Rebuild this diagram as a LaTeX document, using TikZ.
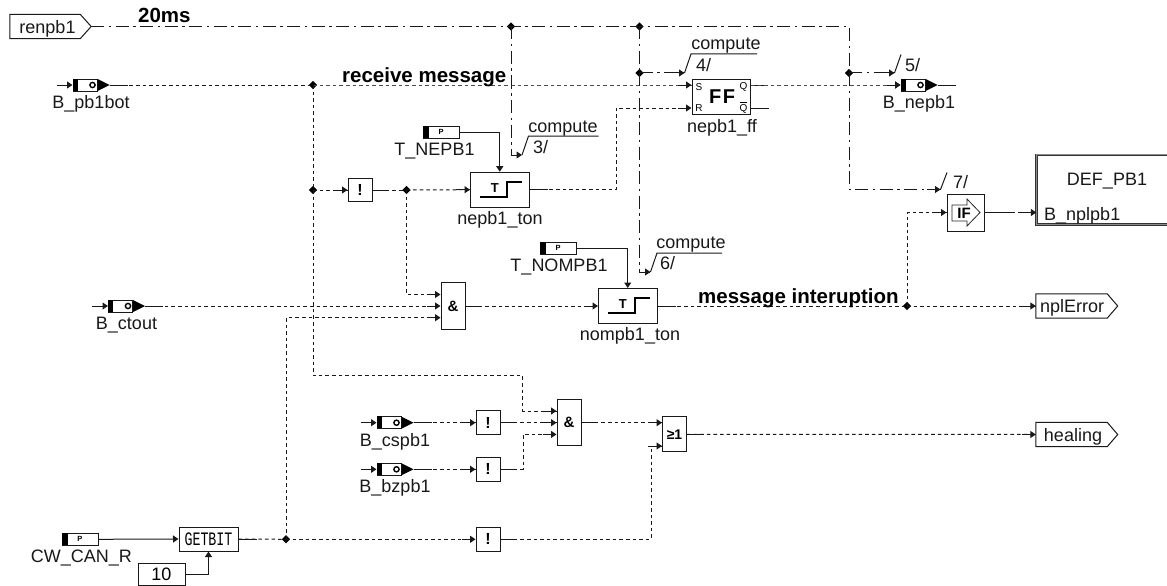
\documentclass[tikz,border=0pt]{standalone}
\usepackage{fontspec}
\setmainfont{Liberation Sans}
\newfontfamily\narrowmono[FakeStretch=0.7]{Liberation Mono}
\usetikzlibrary{calc,arrows.meta,shapes.geometric}
\newcommand\fs[1]{\fontsize{#1}{#1}\selectfont}
\tikzset{
  wire/.style={line width=1pt,black!90},
  tipped/.style={-{Triangle[length=5.5pt,width=7pt]}},
  datawire/.style={wire,dash pattern=on 3.6pt off 3pt},
  lightwire/.style={line width=0.9pt,black!70,dash pattern=on 3.6pt off 3pt},
  ctrlwire/.style={wire,dash pattern=on 13pt off 4.5pt on 2.5pt off 4.5pt},
  blockbox/.style={draw=black!90,line width=1pt,inner sep=0pt,fill=white},
  lbl/.style={inner sep=0pt,anchor=base,font=\fs{18},black!90},
  boldlbl/.style={inner sep=0pt,anchor=base west,font=\fs{20.5}\bfseries,black},
  junction/.style={diamond,fill=black,inner sep=0pt,minimum width=8.5pt,minimum height=8.5pt},
}
% name, left x, centre y, label
\newcommand\msgblock[4]{%
  \node[blockbox,minimum width=24pt,minimum height=12pt] (#1) at (#2+12,#3) {};
  \fill (#1.north west) rectangle ++(5,12);
  \fill ($(#1.east)+(0,-6)$) -- ++(12,6) -- ++(-12,6) -- cycle;
  \draw[line width=1.4pt] ($(#1.east)+(-5,0)$) circle[radius=2.6pt];
  \coordinate (#1-tip) at ($(#1.east)+(12,0)$);
  \coordinate (#1-in) at ($(#1.west)+(-16,0)$);
  \node[lbl] (#1-lbl) at (#2+18,#3+23.5) {#4};
  \draw[wire,tipped] (#1-in) -- (#1.west);
  \draw[wire] (#1-tip) -- ++(18,0);
}
% name, left x, centre y, label, label x
\newcommand\parblock[5]{%
  \node[blockbox,minimum width=36pt,minimum height=12pt] (#1) at (#2+18,#3) {};
  \fill (#1.north west) rectangle ++(6,12);
  \node[inner sep=0pt,font=\fs{7.5}\bfseries] (#1-p) at (#2+18,#3) {P};
  \node[lbl] (#1-lbl) at (#5,#3+23.5) {#4};
}
% name, centre x, centre y
\newcommand\notblock[3]{%
  \node[blockbox,minimum width=24pt,minimum height=23.5pt,font=\fs{16}\bfseries] (#1) at (#2,#3) {!};
  \draw[wire] (#1.east) -- ++(14,0);
}
% name, centre x, centre y
\newcommand\tonblock[3]{%
  \node[blockbox,minimum width=58.5pt,minimum height=35pt] (#1) at (#2,#3) {};
  \draw[line width=1.6pt] ($(#1.center)+(-20,7)$) -| ($(#1.center)+(7,-8)$) -- ++(15,0);
  \node[inner sep=0pt,font=\fs{13}\bfseries] (#1-t) at ($(#1.center)+(-5,-2)$) {T};
  \draw[wire] (#1.east) -- ++(18,0);
}
% name, left x, centre y, text, text centre x, baseline y
\newcommand\tagbox[6]{%
  \node[minimum width=71pt,minimum height=24pt,inner sep=0pt] (#1) at (#2+35.5,#3) {};
  \draw[line width=1pt,black!90] (#1.north west) -- (#1.north east) -- ($(#1.east)+(10.5,0)$) -- (#1.south east) -- (#1.south west) -- cycle;
  \node[lbl] (#1-txt) at (#5,#6) {#4};
}
\newcommand\stubin[1]{\draw[wire,tipped] ($(#1)+(-14,0)$) -- (#1);}
\begin{document}
\begin{tikzpicture}[x=1pt,y=-1pt]
\useasboundingbox[fill=white] (0,0) rectangle (1167,586);

% ---- blocks
\node[inner sep=0pt,minimum width=70pt,minimum height=24pt] (ren) at (45,26.5) {};
\draw[line width=1pt,black!90] (ren.north west) -- (ren.north east) -- ($(ren.east)+(11,0)$) -- (ren.south east) -- (ren.south west) -- cycle;
\coordinate (ren-tip) at ($(ren.east)+(11,0)$);
\node[lbl] (ren-txt) at (47.5,34) {renpb1};

\msgblock{pb1bot}{73}{85}{B\_pb1bot}
\msgblock{nepb1}{901}{85}{B\_nepb1}
\msgblock{ctout}{108.5}{306}{B\_ctout}
\msgblock{cspb1}{377}{422.7}{B\_cspb1}
\msgblock{bzpb1}{377}{469.3}{B\_bzpb1}

\parblock{tnepb}{423}{132}{T\_NEPB1}{434.5}
\parblock{tnomp}{540}{248}{T\_NOMPB1}{559}
\parblock{cwcan}{62}{539.3}{CW\_CAN\_R}{81.5}

\notblock{not1}{360}{190}
\notblock{not2}{488}{422.7}
\notblock{not3}{488}{469.3}
\notblock{not4}{488}{539.3}

\tonblock{ton1}{499.75}{189.7}
\tonblock{ton2}{627.75}{306}
\node[lbl] (ton1-lbl) at (500,224) {nepb1\_ton};
\node[lbl] (ton2-lbl) at (630,340.7) {nompb1\_ton};

\node[blockbox,minimum width=58.5pt,minimum height=35pt] (ff) at (721.25,96.5) {};
\node[inner sep=0pt,font=\fs{20}\bfseries] (ff-t) at (722,97) {F\kern1.5pt F};
\node[inner sep=0pt,font=\fs{10}] (ff-s) at (699,87) {S};
\node[inner sep=0pt,font=\fs{10}] (ff-r) at (699,108) {R};
\node[inner sep=0pt,font=\fs{10}] (ff-q) at (743.5,87) {Q};
\node[inner sep=0pt,font=\fs{10}] (ff-qn) at (743.5,107.5) {$\overline{\mbox{Q}}$};
\node[lbl] (ff-lbl) at (722,132) {nepb1\_ff};
\coordinate (ffS) at (ff.west |- 0,85);
\coordinate (ffR) at (ff.west |- 0,108);
\coordinate (ffQ) at (ff.east |- 0,85);
\coordinate (ffN) at (ff.east |- 0,108);

\node[blockbox,minimum width=24pt,minimum height=46.5pt,font=\fs{15}\bfseries] (and1) at (453,306) {\&};
\node[blockbox,minimum width=24pt,minimum height=46.5pt,font=\fs{15}\bfseries] (and2) at (569,422.7) {\&};
\node[blockbox,minimum width=24pt,minimum height=35pt,font=\fs{14}\bfseries] (or1) at (674.5,434.3) {≥1};
\coordinate (and1a) at ($(and1.west)+(0,-11.5)$);
\coordinate (and1c) at ($(and1.west)+(0,11.7)$);
\coordinate (and2a) at ($(and2.west)+(0,-11.7)$);
\coordinate (and2c) at ($(and2.west)+(0,11.7)$);
\coordinate (or1a) at (or1.west |- 0,422.7);
\coordinate (or1b) at (or1.west |- 0,446);

\node[blockbox,minimum width=59pt,minimum height=24pt,font=\fs{19}\narrowmono] (getbit) at (208.5,539) {GETBIT};
\node[blockbox,minimum width=47pt,minimum height=22pt,font=\fs{18}] (ten) at (161.5,574) {10};

\node[blockbox,minimum width=37.5pt,minimum height=37pt] (ifb) at (965.75,212.5) {};
\draw[line width=0.8pt,black!85] (952,205) -- (967,205) -- (967,199) -- (980,212.5) -- (967,226) -- (967,221) -- (952,221) -- cycle;
\node[inner sep=0pt,font=\fs{15}\bfseries] (ifb-t) at (964,213) {IF};

\node[inner sep=0pt,minimum width=130.5pt,minimum height=69pt] (def) at (1101.75,189.5) {};
\draw[line width=0.7pt,draw=black!80,double=black!45,double distance=1.2pt] (def.north east) -- (def.north west) -- (def.south west) -- (def.south east);
\node[lbl] (def-txt) at (1107,185) {DEF\_PB1};
\node[lbl,anchor=base west] (def-in) at (1044,220) {B\_nplpb1};
\coordinate (defIn) at (def.west |- 0,212.5);

\tagbox{npl}{1036}{306}{nplError}{1072}{312}
\tagbox{heal}{1036}{434.5}{healing}{1073}{441}

% ---- junctions
\node[junction] (j1) at (313,85) {};
\node[junction] (j2) at (313,190) {};
\node[junction] (j3) at (406.5,190) {};
\node[junction] (j4) at (286,539.3) {};
\node[junction] (j5) at (907,306) {};
\node[junction] (c1) at (511,26.5) {};
\node[junction] (c2) at (639.5,26.5) {};
\node[junction] (c4) at (639.5,73) {};
\node[junction] (c5) at (849,73) {};
\coordinate (cc) at (849,26.5);

% ---- solid connectors
\draw[wire,tipped] (tnepb.east) -| (ton1.north);
\draw[wire,tipped] (tnomp.east) -| (ton2.north);
\draw[wire,tipped] (cwcan.east) -- (getbit.west);
\draw[wire,tipped] (ten.east) -| (getbit.south);
\draw[wire] (getbit.east) -- ++(18,0);
\draw[wire] (and1.east) -- ++(14,0);
\draw[wire] (and2.east) -- ++(14,0);
\draw[wire] (or1.east) -- ++(14,0);
\draw[wire] (ifb.east) -- ++(26,0);
\draw[wire] (ffQ) -- ++(14,0);
\draw[wire] (ffN) -- ++(18,0);

% ---- data connectors
\draw[datawire] (pb1bot-tip) -- (j1.center);
\draw[lightwire] (j1.center) -- (ffS);
\draw[lightwire] (ffQ) -- (nepb1.west);
\draw[datawire] (j1.center) -- (j2.center);
\coordinate (b1) at (522.7,375.7);
\draw[datawire] (j2.center) |- (b1) |- (and2a);
\draw[datawire] (j2.center) -- (not1.west);
\draw[datawire] (not1.east) -- (j3.center);
\draw[datawire] (j3.center) -- (ton1.west);
\draw[datawire] (j3.center) |- (and1a);
\coordinate (b2) at (616,108);
\draw[datawire] (ton1.east) -| (b2) -- (ffR);
\draw[datawire] (ctout-tip) -- (and1.west);
\draw[datawire] (j4.center) |- (and1c);
\draw[datawire] (and1.east) -- (ton2.west);
\draw[datawire] (ton2.east) -- (j5.center);
\draw[datawire] (j5.center) |- (ifb.west);
\draw[datawire] (j5.center) -- (npl.west);
\draw[datawire] (ifb.east) -- (defIn);
\draw[datawire] (cspb1-tip) -- (not2.west);
\draw[datawire] (bzpb1-tip) -- (not3.west);
\draw[datawire] (not2.east) -- (and2.west);
\coordinate (b3) at (523,469.3);
\draw[datawire] (not3.east) -- (b3) |- (and2c);
\draw[datawire] (and2.east) -- (or1a);
\draw[datawire] (or1.east) -- (heal.west);
\draw[datawire] (getbit.east) -- (j4.center);
\draw[datawire] (j4.center) -- (not4.west);
\coordinate (b4) at (651,539.3);
\draw[datawire] (not4.east) -- (b4) |- (or1b);

\stubin{ffS}
\stubin{ffR}
\stubin{nepb1.west}
\stubin{not1.west}
\stubin{not2.west}
\stubin{not3.west}
\stubin{not4.west}
\stubin{ton1.west}
\stubin{ton2.west}
\stubin{and1a}
\stubin{and1.west}
\stubin{and1c}
\stubin{and2a}
\stubin{and2.west}
\stubin{and2c}
\stubin{or1a}
\stubin{or1b}
\stubin{ifb.west}
\stubin{defIn}
\stubin{npl.west}
\stubin{heal.west}

% ---- control connectors and markers
\coordinate (m3) at (522,155);
\coordinate (m4) at (684.5,73);
\coordinate (m5) at (894.5,73);
\coordinate (m6) at (650.5,272);
\coordinate (m7) at (940.5,189.5);
\draw[ctrlwire] (ren-tip) -- (c1.center) -- (c2.center) -- (cc) -- (c5.center);
\draw[ctrlwire] (c1.center) |- (m3);
\draw[ctrlwire] (c2.center) -- (c4.center);
\draw[ctrlwire] (c4.center) |- (m6);
\draw[ctrlwire] (c4.center) -- (m4);
\draw[ctrlwire] (c5.center) -- (m5);
\draw[ctrlwire] (c5.center) |- (m7);
\draw[wire,tipped] ($(m3)+(-6,0)$) -- (m3);
\draw[wire,tipped] ($(m6)+(-6,0)$) -- (m6);
\stubin{m4}
\stubin{m5}
\stubin{m7}
\draw[wire] (m3) -- ++(6.5,-19) -- ++(70,0);
\draw[wire] (m4) -- ++(6.5,-19) -- ++(66,0);
\draw[wire] (m6) -- ++(6.5,-19) -- ++(65,0);
\draw[wire] (m5) -- ++(6.5,-18.5);
\draw[wire] (m7) -- ++(6.5,-17);

% ---- texts
\node[boldlbl] (t20) at (138,22.6) {20ms};
\node[boldlbl] (trec) at (342,82) {receive message};
\node[boldlbl] (tmsg) at (698,303) {message interuption};
\node[lbl] (cmp3) at (563,132) {compute};
\node[lbl] (cmp4) at (726,50) {compute};
\node[lbl] (cmp6) at (691,248) {compute};
\node[lbl,anchor=base west] (n3) at (533,153) {3/};
\node[lbl,anchor=base west] (n4) at (696,71) {4/};
\node[lbl,anchor=base west] (n5) at (905,71) {5/};
\node[lbl,anchor=base west] (n6) at (660,269) {6/};
\node[lbl,anchor=base west] (n7) at (953,188) {7/};
\end{tikzpicture}
\end{document}
